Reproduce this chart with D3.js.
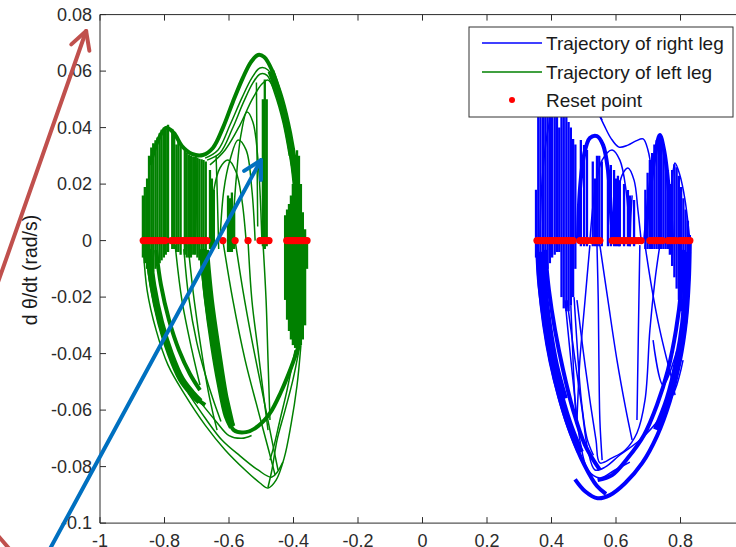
<!DOCTYPE html>
<html>
<head>
<meta charset="utf-8">
<script src="https://cdn.jsdelivr.net/npm/d3@7"></script>
<style>
  body { margin: 0; background: #fff; }
  svg { display: block; font-family: "Liberation Sans", Arial, sans-serif; }
</style>
</head>
<body>
<svg id="chart" width="736" height="547"></svg>
<script>
// ---- axis ticks ----
const xTicks = [-1, -0.8, -0.6, -0.4, -0.2, 0, 0.2, 0.4, 0.6, 0.8, 1];
const xTickLabels = ["-1", "-0.8", "-0.6", "-0.4", "-0.2", "0", "0.2", "0.4", "0.6", "0.8", "1"];
const yTicks = [-0.1, -0.08, -0.06, -0.04, -0.02, 0, 0.02, 0.04, 0.06, 0.08];
const yTickLabels = ["-0.1", "-0.08", "-0.06", "-0.04", "-0.02", "0", "0.02", "0.04", "0.06", "0.08"];

const yLabel = "d \u03b8/dt (rad/s)";
const legendLabels = ["Trajectory of right leg", "Trajectory of left leg", "Reset point"];

// ---- left leg (green): fast vertical sweeps [theta, top, bottom] ----
const leftLegStripes = [
  [-0.867, 0.0160, -0.0060], [-0.861, 0.0190, -0.0080], [-0.854, 0.0220, -0.0100],
  [-0.848, 0.0300, -0.0120], [-0.841, 0.0330, -0.0120], [-0.835, 0.0345, -0.0110],
  [-0.828, 0.0355, -0.0100], [-0.822, 0.0365, -0.0090], [-0.815, 0.0380, -0.0080],
  [-0.809, 0.0392, -0.0070], [-0.802, 0.0400, -0.0060], [-0.796, 0.0405, -0.0050],
  [-0.789, 0.0410, -0.0040], [-0.776, 0.0395, -0.0030], [-0.770, 0.0380, -0.0030],
  [-0.763, 0.0340, -0.0040], [-0.757, 0.0350, -0.0040], [-0.750, 0.0335, -0.0050],
  [-0.737, 0.0320, -0.0050], [-0.731, 0.0310, -0.0060], [-0.724, 0.0305, -0.0060],
  [-0.718, 0.0300, -0.0060], [-0.711, 0.0298, -0.0050], [-0.705, 0.0296, -0.0050],
  [-0.698, 0.0294, -0.0060], [-0.692, 0.0290, -0.0070], [-0.685, 0.0288, -0.0080],
  [-0.679, 0.0285, -0.0080], [-0.672, 0.0280, -0.0080],
  [-0.659, 0.0250, -0.0030], [-0.653, 0.0220, -0.0030], [-0.647, 0.0180, -0.0030],
  [-0.603, 0.0160, -0.0040], [-0.597, 0.0150, -0.0040], [-0.591, 0.0170, -0.0040],
  [-0.584, 0.0120, -0.0030],
  [-0.495, 0.0500, -0.0020], [-0.489, 0.0570, -0.0030], [-0.483, 0.0500, -0.0020],
  [-0.426, 0.0090, -0.0210], [-0.420, 0.0110, -0.0280], [-0.414, 0.0130, -0.0320],
  [-0.408, 0.0160, -0.0350], [-0.402, 0.0200, -0.0370], [-0.395, 0.0260, -0.0380],
  [-0.389, 0.0320, -0.0390], [-0.383, 0.0300, -0.0380], [-0.377, 0.0200, -0.0370],
  [-0.371, 0.0100, -0.0350], [-0.364, 0.0040, -0.0300], [-0.358, 0.0010, -0.0100]
];

// ---- left leg: broad retraced bands [theta, dtheta] ----
const leftLegBands = [
  [[-0.850, -0.0030], [-0.836, -0.0160], [-0.812, -0.0290], [-0.782, -0.0400], [-0.748, -0.0490],
   [-0.715, -0.0540], [-0.690, -0.0570]],
  [[-0.682, -0.0030], [-0.668, -0.0200], [-0.648, -0.0370], [-0.627, -0.0510], [-0.606, -0.0620],
   [-0.590, -0.0660]],
  [[-0.470, 0.0600], [-0.440, 0.0500], [-0.415, 0.0380], [-0.398, 0.0260], [-0.387, 0.0130],
   [-0.381, 0.0000]]
];

// ---- left leg: heavily retraced bundles ----
const leftLegBundles = [
  [[-0.845, 0.0268], [-0.820, 0.0356], [-0.795, 0.0399], [-0.771, 0.0381], [-0.746, 0.0335],
   [-0.715, 0.0307], [-0.681, 0.0303], [-0.650, 0.0328], [-0.619, 0.0399], [-0.588, 0.0491],
   [-0.557, 0.0576], [-0.532, 0.0632], [-0.510, 0.0657], [-0.491, 0.0650], [-0.467, 0.0604],
   [-0.439, 0.0505], [-0.414, 0.0381], [-0.395, 0.0257], [-0.383, 0.0126], [-0.374, 0.0002]],
  [[-0.857, -0.0016], [-0.842, -0.0147], [-0.817, -0.0281], [-0.786, -0.0394], [-0.749, -0.0486],
   [-0.712, -0.0547], [-0.674, -0.0582]],
  [[-0.826, -0.0033], [-0.811, -0.0157], [-0.786, -0.0281], [-0.755, -0.0388], [-0.721, -0.0472],
   [-0.690, -0.0529]],
  [[-0.687, -0.0033], [-0.671, -0.0211], [-0.650, -0.0370], [-0.628, -0.0511], [-0.606, -0.0618],
   [-0.585, -0.0671], [-0.547, -0.0678], [-0.510, -0.0657], [-0.473, -0.0611], [-0.439, -0.0536],
   [-0.408, -0.0451], [-0.383, -0.0370]],
  [[-0.668, -0.0033], [-0.653, -0.0211], [-0.631, -0.0388], [-0.609, -0.0547], [-0.588, -0.0653]]
];

// ---- left leg: single passes ----
const leftLegCurves = [
  [[-0.674, 0.0292], [-0.634, 0.0321], [-0.597, 0.0409], [-0.560, 0.0505], [-0.529, 0.0576],
   [-0.504, 0.0611], [-0.479, 0.0604], [-0.454, 0.0540], [-0.429, 0.0445], [-0.408, 0.0321],
   [-0.389, 0.0179], [-0.380, 0.0037]],
  [[-0.668, 0.0285], [-0.628, 0.0310], [-0.590, 0.0395], [-0.555, 0.0490], [-0.525, 0.0560],
   [-0.503, 0.0590], [-0.482, 0.0585], [-0.458, 0.0520], [-0.433, 0.0420], [-0.413, 0.0300]],
  [[-0.659, 0.0268], [-0.612, 0.0321], [-0.566, 0.0409], [-0.529, 0.0498], [-0.498, 0.0554],
   [-0.479, 0.0568], [-0.457, 0.0526], [-0.433, 0.0434], [-0.411, 0.0303], [-0.392, 0.0144]],
  [[-0.659, 0], [-0.647, 0.0179], [-0.628, 0.0257], [-0.603, 0.0285], [-0.578, 0.0243],
   [-0.560, 0.0144], [-0.547, 0]],
  [[-0.591, 0], [-0.578, 0.0214], [-0.563, 0.0374], [-0.544, 0.0455], [-0.526, 0.0420],
   [-0.510, 0.0285], [-0.498, 0]],
  [[-0.628, 0], [-0.616, 0.0179], [-0.597, 0.0285], [-0.572, 0.0356], [-0.547, 0.0321],
   [-0.529, 0.0179], [-0.519, 0]],
  [[-0.867, 0], [-0.854, -0.0175], [-0.826, -0.0317], [-0.789, -0.0441], [-0.736, -0.0547],
   [-0.674, -0.0653], [-0.612, -0.0741], [-0.550, -0.0812], [-0.504, -0.0858], [-0.479, -0.0876],
   [-0.454, -0.0848], [-0.429, -0.0770], [-0.408, -0.0653], [-0.389, -0.0512], [-0.377, -0.0370]],
  [[-0.727, -0.0539], [-0.674, -0.0628], [-0.622, -0.0706], [-0.566, -0.0762], [-0.510, -0.0812],
   [-0.467, -0.0837], [-0.433, -0.0784]],
  [[-0.619, 0], [-0.588, -0.0211], [-0.550, -0.0423], [-0.510, -0.0600], [-0.473, -0.0759],
   [-0.457, -0.0830]],
  [[-0.581, 0], [-0.557, -0.0175], [-0.529, -0.0352], [-0.498, -0.0529], [-0.467, -0.0706],
   [-0.448, -0.0812]],
  [[-0.541, 0], [-0.529, -0.0211], [-0.510, -0.0388], [-0.491, -0.0564], [-0.479, -0.0671]],
  [[-0.380, -0.0370], [-0.402, -0.0494], [-0.426, -0.0600], [-0.451, -0.0706], [-0.467, -0.0812],
   [-0.479, -0.0873]],
  [[-0.395, -0.0388], [-0.420, -0.0529], [-0.442, -0.0635], [-0.460, -0.0724], [-0.473, -0.0777]],
  [[-0.495, 0], [-0.485, -0.0211], [-0.479, -0.0423], [-0.473, -0.0635]],
  [[-0.767, -0.0016], [-0.746, -0.0211], [-0.715, -0.0388], [-0.690, -0.0511]],
  [[-0.727, -0.0016], [-0.708, -0.0211], [-0.681, -0.0423], [-0.659, -0.0564], [-0.637, -0.0671]],
  [[-0.740, -0.0030], [-0.725, -0.0200], [-0.700, -0.0360], [-0.672, -0.0480], [-0.650, -0.0560],
   [-0.625, -0.0640]],
  [[-0.690, -0.0570], [-0.640, -0.0640], [-0.600, -0.0690], [-0.560, -0.0700], [-0.530, -0.0690]],
  [[-0.702, 0.0296], [-0.700, 0.0100], [-0.697, -0.0050]],
  [[-0.640, 0.0300], [-0.636, 0.0150], [-0.632, -0.0030]],
  [[-0.515, 0.0560], [-0.513, 0.0300], [-0.511, 0.0050]]
];

const leftLegResets = [
  -0.866, -0.860, -0.853, -0.846, -0.839, -0.832, -0.825, -0.818, -0.811, -0.804, -0.798,
  -0.779, -0.772, -0.764, -0.756, -0.748, -0.740, -0.732, -0.724, -0.716, -0.708, -0.700,
  -0.692, -0.684, -0.676, -0.668,
  -0.619, -0.581, -0.541,
  -0.504, -0.497, -0.490, -0.483, -0.476,
  -0.421, -0.414, -0.407, -0.400, -0.393, -0.386, -0.379, -0.372, -0.365, -0.358
];

// ---- right leg (blue) ----
const rightLegStripes = [
  [0.352, 0.0180, -0.0060], [0.359, 0.0500, -0.0100], [0.366, 0.0500, -0.0120],
  [0.374, 0.0500, -0.0130], [0.381, 0.0500, -0.0120], [0.388, 0.0500, -0.0100],
  [0.395, 0.0450, -0.0080], [0.402, 0.0500, -0.0060], [0.410, 0.0480, -0.0050],
  [0.417, 0.0500, -0.0040], [0.424, 0.0400, -0.0040], [0.431, 0.0500, -0.0200],
  [0.438, 0.0500, -0.0240], [0.446, 0.0460, -0.0250], [0.453, 0.0420, -0.0250],
  [0.460, 0.0400, -0.0230], [0.467, 0.0360, -0.0200], [0.474, 0.0340, -0.0100],
  [0.491, 0.0356, -0.0020], [0.501, 0.0338, -0.0020], [0.510, 0.0321, -0.0020],
  [0.528, 0.0280, -0.0020], [0.535, 0.0220, -0.0020], [0.541, 0.0300, -0.0020],
  [0.548, 0.0300, -0.0020], [0.556, 0.0280, -0.0020],
  [0.575, 0.0250, -0.0020], [0.584, 0.0268, -0.0020], [0.594, 0.0250, -0.0020],
  [0.600, 0.0220, -0.0020], [0.606, 0.0230, -0.0020],
  [0.612, 0.0214, -0.0020], [0.625, 0.0200, -0.0020], [0.637, 0.0179, -0.0020],
  [0.643, 0.0160, -0.0020], [0.656, 0.0144, -0.0020],
  [0.691, 0.0180, -0.0030], [0.698, 0.0240, -0.0030], [0.705, 0.0285, -0.0030],
  [0.712, 0.0310, -0.0030], [0.719, 0.0340, -0.0030], [0.726, 0.0355, -0.0030],
  [0.733, 0.0370, -0.0030], [0.740, 0.0360, -0.0030], [0.747, 0.0330, -0.0030],
  [0.754, 0.0300, -0.0030], [0.761, 0.0250, -0.0030],
  [0.767, 0.0200, -0.0050], [0.774, 0.0250, -0.0090], [0.781, 0.0270, -0.0130],
  [0.788, 0.0260, -0.0170], [0.795, 0.0230, -0.0210], [0.802, 0.0190, -0.0250],
  [0.809, 0.0150, -0.0270], [0.816, 0.0110, -0.0260], [0.823, 0.0070, -0.0200],
  [0.829, 0.0020, -0.0100]
];

const rightLegBands = [
  [[0.362, -0.0040], [0.368, -0.0160], [0.382, -0.0300], [0.402, -0.0430], [0.428, -0.0550],
   [0.458, -0.0660], [0.490, -0.0750]],
  [[0.372, -0.0060], [0.378, -0.0180], [0.392, -0.0310], [0.412, -0.0440], [0.440, -0.0560]],
  [[0.822, -0.0040], [0.818, -0.0160], [0.810, -0.0290], [0.792, -0.0420], [0.762, -0.0560],
   [0.725, -0.0670]]
];

const rightLegBundles = [
  [[0.355, 0], [0.361, -0.0139], [0.377, -0.0285], [0.398, -0.0427], [0.426, -0.0561],
   [0.460, -0.0682], [0.501, -0.0792], [0.541, -0.0869], [0.569, -0.0897]],
  [[0.380, -0.0033], [0.392, -0.0175], [0.411, -0.0317], [0.436, -0.0458], [0.467, -0.0600],
   [0.504, -0.0724], [0.550, -0.0812]],
  [[0.829, 0], [0.826, -0.0139], [0.817, -0.0285], [0.798, -0.0427], [0.767, -0.0568],
   [0.727, -0.0692], [0.681, -0.0788], [0.628, -0.0859], [0.581, -0.0901], [0.543, -0.0912],
   [0.504, -0.0887], [0.473, -0.0845]],
  [[0.808, -0.0033], [0.802, -0.0175], [0.786, -0.0317], [0.761, -0.0458], [0.727, -0.0582],
   [0.687, -0.0688], [0.637, -0.0769], [0.588, -0.0830], [0.543, -0.0848]],
  [[0.482, 0], [0.488, 0.0179], [0.501, 0.0303], [0.519, 0.0363], [0.541, 0.0370],
   [0.560, 0.0338], [0.575, 0.0250], [0.584, 0.0108], [0.591, 0]],
  [[0.690, 0], [0.705, 0.0179], [0.721, 0.0303], [0.736, 0.0374], [0.749, 0.0321],
   [0.764, 0.0179], [0.774, 0]]
];

const rightLegCurves = [
  [[0.448, -0.0211], [0.473, -0.0423], [0.495, -0.0600], [0.513, -0.0742], [0.535, -0.0812],
   [0.566, -0.0802], [0.612, -0.0759], [0.674, -0.0706], [0.736, -0.0628], [0.783, -0.0529],
   [0.808, -0.0423]],
  [[0.479, -0.0211], [0.498, -0.0388], [0.519, -0.0564], [0.538, -0.0706], [0.550, -0.0787],
   [0.588, -0.0769], [0.628, -0.0742], [0.665, -0.0681], [0.690, -0.0564], [0.705, -0.0317],
   [0.721, -0.0139], [0.736, -0.0016]],
  [[0.541, -0.0016], [0.545, -0.0211], [0.547, -0.0423], [0.550, -0.0635], [0.557, -0.0777]],
  [[0.550, -0.0016], [0.575, -0.0211], [0.603, -0.0423], [0.631, -0.0600], [0.650, -0.0706]],
  [[0.674, -0.0016], [0.671, -0.0211], [0.668, -0.0423], [0.665, -0.0635]],
  [[0.690, -0.0016], [0.712, -0.0175], [0.736, -0.0317], [0.758, -0.0423], [0.774, -0.0494],
   [0.783, -0.0547]],
  [[0.715, -0.0352], [0.746, -0.0511], [0.789, -0.0388]],
  [[0.442, -0.0211], [0.457, -0.0388], [0.473, -0.0564], [0.488, -0.0706], [0.513, -0.0812],
   [0.550, -0.0840], [0.597, -0.0812], [0.643, -0.0784]],
  [[0.519, -0.0016], [0.504, -0.0211], [0.488, -0.0423], [0.479, -0.0635]],
  [[0.460, -0.0230], [0.466, -0.0400], [0.472, -0.0550], [0.478, -0.0650]],
  [[0.470, -0.0200], [0.480, -0.0380], [0.492, -0.0560], [0.510, -0.0700], [0.530, -0.0760]],
  [[0.541, 0.0462], [0.563, 0.0409], [0.584, 0.0363], [0.609, 0.0331], [0.637, 0.0338],
   [0.662, 0.0353], [0.684, 0.0360], [0.699, 0.0321], [0.712, 0.0232]],
  [[0.519, 0], [0.535, 0.0179], [0.557, 0.0285], [0.588, 0.0321], [0.612, 0.0285],
   [0.631, 0.0179], [0.643, 0]],
  [[0.591, 0], [0.603, 0.0144], [0.619, 0.0232], [0.637, 0.0257], [0.656, 0.0214],
   [0.668, 0.0108], [0.678, 0]],
  [[0.761, 0], [0.771, 0.0179], [0.783, 0.0275], [0.798, 0.0232], [0.814, 0.0144], [0.829, 0]],
  [[0.364, 0], [0.371, 0.0214], [0.389, 0.0392], [0.414, 0.0498], [0.451, 0.0551],
   [0.495, 0.0540], [0.532, 0.0480], [0.557, 0.0427]],
  [[0.600, 0.0200], [0.606, 0.0100], [0.610, -0.0020]],
  [[0.650, 0.0160], [0.646, 0.0080], [0.644, -0.0020]]
];

const rightLegResets = [
  0.355, 0.362, 0.369, 0.376, 0.383, 0.390, 0.397, 0.404, 0.411, 0.418, 0.425, 0.432,
  0.439, 0.446, 0.453, 0.460, 0.467,
  0.488, 0.496, 0.504, 0.512,
  0.526, 0.534, 0.542, 0.550,
  0.588, 0.596, 0.604, 0.612, 0.620, 0.628, 0.636, 0.644, 0.650,
  0.661, 0.670, 0.678,
  0.705, 0.713, 0.721, 0.729, 0.737, 0.744,
  0.761, 0.769, 0.777, 0.785,
  0.798, 0.806, 0.814, 0.822, 0.829
];

// annotation arrows: [tail, tip] in data units
const annotationArrows = [
  { from: [-1.341, -0.0228], to: [-1.043, 0.0742], color: "#c0504d" },
  { from: [-1.174, -0.1131], to: [-0.501, 0.0285], color: "#0070c0" }
];
const annotationStub = { from: [-1.316, -0.1045], to: [-1.270, -0.1106], color: "#c0504d" };

// ---- layout ----
const plot = { left: 100, top: 14.6, right: 745, bottom: 523.1 };
const colors = { right: "#0000ff", left: "#008000", reset: "#ff0000", axis: "#2b2b2b" };

const svg = d3.select("#chart");
const x = d3.scaleLinear().domain([-1, 1]).range([plot.left, plot.right]);
const y = d3.scaleLinear().domain([-0.1, 0.08]).range([plot.bottom, plot.top]);

svg.append("defs").append("clipPath").attr("id", "plotClip")
  .append("rect")
  .attr("x", plot.left).attr("y", plot.top)
  .attr("width", plot.right - plot.left).attr("height", plot.bottom - plot.top);

const data = svg.append("g").attr("clip-path", "url(#plotClip)");
const line = d3.line().x(d => x(d[0])).y(d => y(d[1])).curve(d3.curveCatmullRom.alpha(0.5));

function drawLeg(stripes, bands, bundles, curves, color) {
  const g = data.append("g").attr("fill", "none").attr("stroke", color)
    .attr("stroke-linejoin", "round");
  g.selectAll("line.stripe").data(stripes).join("line")
    .attr("class", "stripe")
    .attr("x1", d => x(d[0])).attr("x2", d => x(d[0]))
    .attr("y1", d => y(d[1])).attr("y2", d => y(d[2]))
    .attr("stroke-width", 2.3);
  g.selectAll("path.band").data(bands).join("path")
    .attr("class", "band").attr("d", line).attr("stroke-width", 7);
  g.selectAll("path.bundle").data(bundles).join("path")
    .attr("class", "bundle").attr("d", line).attr("stroke-width", 4);
  g.selectAll("path.curve").data(curves).join("path")
    .attr("class", "curve").attr("d", line).attr("stroke-width", 1.5);
}
drawLeg(rightLegStripes, rightLegBands, rightLegBundles, rightLegCurves, colors.right);
drawLeg(leftLegStripes, leftLegBands, leftLegBundles, leftLegCurves, colors.left);

const resets = leftLegResets.concat(rightLegResets);
data.selectAll("circle.reset").data(resets).join("circle")
  .attr("class", "reset")
  .attr("cx", d => x(d)).attr("cy", y(0)).attr("r", 3.6)
  .attr("fill", colors.reset);

// ---- axes ----
const axisG = svg.append("g").attr("fill", "none").attr("stroke", colors.axis);
axisG.append("line").attr("x1", plot.left).attr("x2", plot.left)
  .attr("y1", plot.top).attr("y2", plot.bottom);
axisG.append("line").attr("x1", plot.left).attr("x2", plot.right)
  .attr("y1", plot.bottom).attr("y2", plot.bottom);
axisG.append("line").attr("x1", plot.left).attr("x2", plot.right)
  .attr("y1", plot.top).attr("y2", plot.top);

const tickLen = 6;
const labels = svg.append("g").attr("font-size", 18).attr("fill", "#2b2b2b");
xTicks.forEach((t, i) => {
  axisG.append("line").attr("x1", x(t)).attr("x2", x(t))
    .attr("y1", plot.bottom).attr("y2", plot.bottom - tickLen);
  axisG.append("line").attr("x1", x(t)).attr("x2", x(t))
    .attr("y1", plot.top).attr("y2", plot.top + tickLen);
  labels.append("text").attr("x", x(t)).attr("y", plot.bottom + 24)
    .attr("text-anchor", "middle").text(xTickLabels[i]);
});
yTicks.forEach((t, i) => {
  axisG.append("line").attr("x1", plot.left).attr("x2", plot.left + tickLen)
    .attr("y1", y(t)).attr("y2", y(t));
  labels.append("text").attr("x", plot.left - 8).attr("y", y(t)).attr("dy", "0.35em")
    .attr("text-anchor", "end").text(yTickLabels[i]);
});

svg.append("text")
  .attr("transform", "translate(37,270) rotate(-90)")
  .attr("text-anchor", "middle").attr("font-size", 19.5).attr("fill", "#1a1a1a")
  .text(yLabel);

// ---- legend ----
const lg = svg.append("g").attr("transform", "translate(469,27)");
lg.append("rect").attr("width", 264).attr("height", 90)
  .attr("fill", "#fff").attr("stroke", "#333").attr("stroke-width", 1);
const rows = [16, 45, 73];
[colors.right, colors.left].forEach((c, i) => {
  lg.append("line").attr("x1", 13).attr("x2", 73).attr("y1", rows[i]).attr("y2", rows[i])
    .attr("stroke", c).attr("stroke-width", 1.4);
});
lg.append("circle").attr("cx", 43).attr("cy", rows[2]).attr("r", 3).attr("fill", colors.reset);
legendLabels.forEach((t, i) => {
  lg.append("text").attr("x", 77).attr("y", rows[i]).attr("dy", "0.35em")
    .attr("font-size", 19).attr("fill", "#1a1a1a").text(t);
});

// ---- annotation arrows ----
function arrow(a, head) {
  const x1 = x(a.from[0]), y1 = y(a.from[1]), x2 = x(a.to[0]), y2 = y(a.to[1]);
  const ang = Math.atan2(y2 - y1, x2 - x1);
  const g = svg.append("g").attr("stroke", a.color).attr("stroke-width", 4)
    .attr("fill", "none").attr("stroke-linecap", "round").attr("stroke-linejoin", "round");
  g.append("line").attr("x1", x1).attr("y1", y1).attr("x2", x2).attr("y2", y2);
  if (head) {
    const L = 20, spread = 0.5;
    const p = [
      [x2 - L * Math.cos(ang - spread), y2 - L * Math.sin(ang - spread)],
      [x2, y2],
      [x2 - L * Math.cos(ang + spread), y2 - L * Math.sin(ang + spread)]
    ];
    g.append("path").attr("d", d3.line()(p));
  }
}
annotationArrows.forEach(a => arrow(a, true));
arrow(annotationStub, false);
</script>
</body>
</html>
